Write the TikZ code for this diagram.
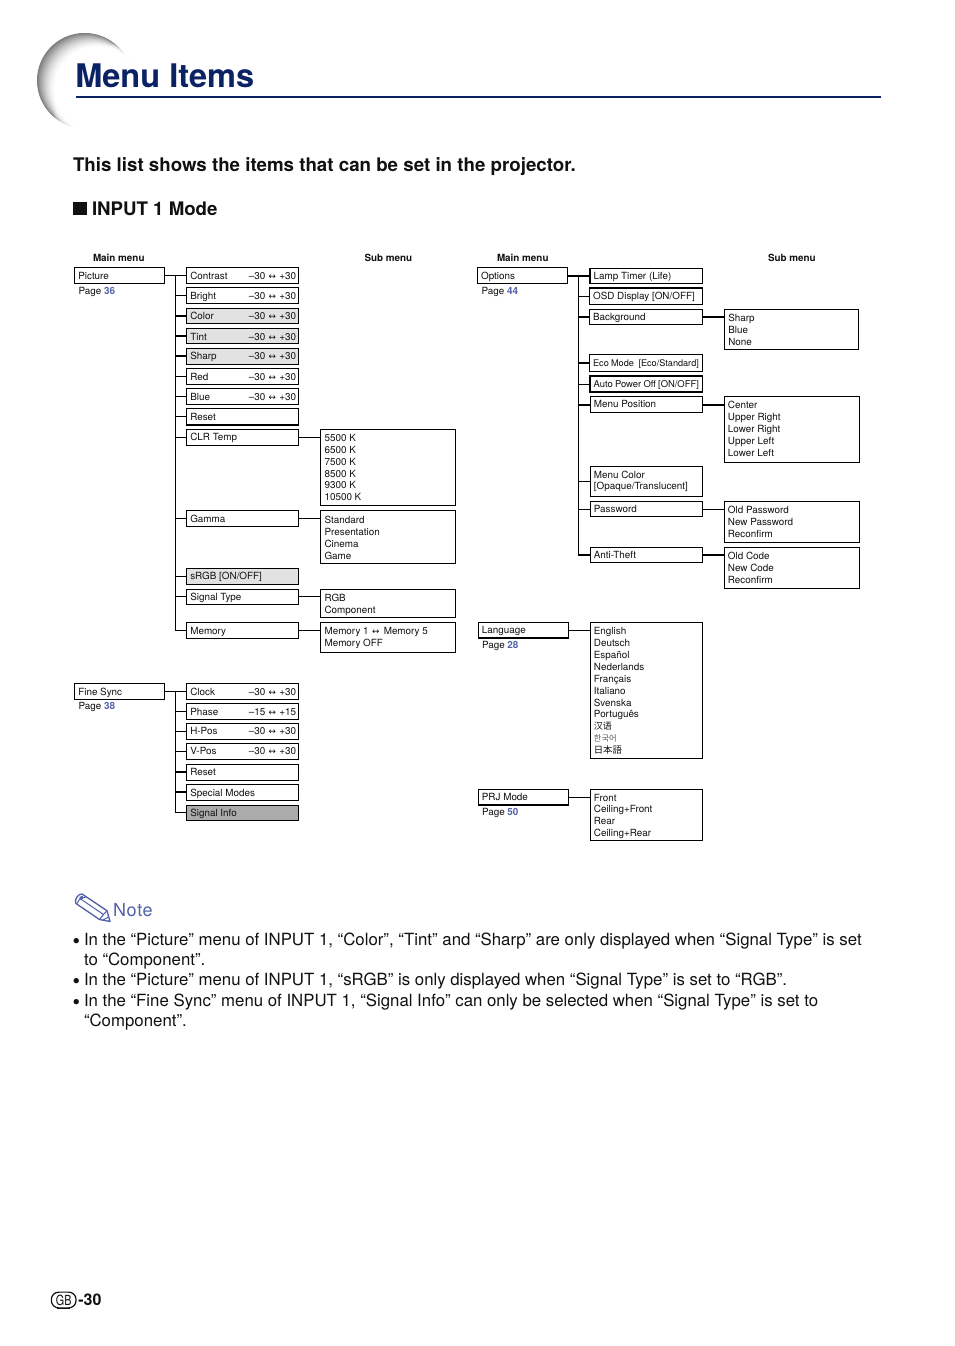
\documentclass[tikz,border=0pt]{standalone}
\usepackage{fontspec}
\setmainfont{TeX Gyre Heros}
\newfontfamily\symf{DejaVu Sans}
\newfontfamily\cjksc{Noto Sans CJK SC}
\newfontfamily\cjkkr{Noto Sans CJK KR}
\newfontfamily\cjkjp{Noto Sans CJK JP}
\definecolor{navy}{HTML}{0B2265}
\definecolor{noteblue}{HTML}{5362A8}
\definecolor{lightfill}{HTML}{E2E2E2}
\definecolor{darkfill}{HTML}{ABABAB}
\definecolor{inkc}{HTML}{111111}
\tikzset{
  mbox/.style={draw=black,line width=0.8pt,inner xsep=2.7pt,inner ysep=0pt,outer sep=0pt,anchor=north west,
     text=inkc,font=\fontsize{7.4}{8.9}\selectfont},
  lt/.style={mbox,fill=lightfill},
  dk/.style={mbox,fill=darkfill},
  plainb/.style={mbox,fill=white},
  thinl/.style={line width=0.75pt,black},
  thickl/.style={line width=1.5pt,black},
  lbl/.style={anchor=base west,inner sep=0pt,outer sep=0pt,text=inkc,font=\fontsize{7.4}{8.9}\selectfont},
  hdr/.style={lbl,font=\fontsize{7.4}{8.9}\selectfont\bfseries},
  bodyt/.style={anchor=base west,inner sep=0pt,outer sep=0pt,text=inkc,font=\fontsize{12.6}{15}\selectfont},
  bult/.style={anchor=base west,inner sep=0pt,outer sep=0pt,text=inkc,font=\fontsize{16}{15}\selectfont},
}
\newcommand\ML[1]{\begin{tabular}[t]{@{}l@{}}#1\end{tabular}}
\newcommand\Ar{\kern2.5pt{\symf\fontsize{6.6}{6}\selectfont ↔}\kern2.5pt}
\newcommand\Rg[2]{\hfill –#1\Ar+#2\kern-0.7pt}
\newcommand\BXg[8]{% base, style, name, x1,y1,x2,y2, text
  \pgfmathsetlengthmacro\bw{(#6-#4)*0.75pt-5.4pt}%
  \pgfmathsetlengthmacro\bh{#1*0.75pt}%
  \pgfmathsetlengthmacro\bd{(#7-#5-#1)*0.75pt}%
  \node[#2,text height=\bh,text depth=\bd] (#3) at (#4,#5) {\hbox to\bw{#8\hfil}};}
\newcommand\BX[7][plainb]{\BXg{11.7}{#1}{#2}{#3}{#4}{#5}{#6}{#7}}
\newcommand\BY[7][plainb]{\BXg{10.8}{#1}{#2}{#3}{#4}{#5}{#6}{#7}}
\newcommand\BM[7][plainb]{\BXg{12.2}{#1}{#2}{#3}{#4}{#5}{#6}{#7}}
\newcommand\PG[4]{\node[lbl] (#1) at (#2,#3) {Page {\color{noteblue}\bfseries #4}};}
\newcommand\Hc[3][thinl]{\draw[#1] (#2.east) -- (#2.east -| #3.west);}
\newcommand\St[3][thinl]{\draw[#1] (#2.west) -- (#2.west -| #3);}
\begin{document}
\begin{tikzpicture}[x=0.75pt,y=-0.75pt]
\useasboundingbox (0,0) rectangle (954,1346);
\fill[white] (0,0) rectangle (954,1346);
% swoosh
\foreach \i in {0,...,40}{
  \pgfmathsetmacro\t{\i/40}
  \pgfmathsetmacro\g{52*(1-\t)^1.6}
  \pgfmathsetmacro\cx{84.5+13.5*\t}
  \pgfmathsetmacro\cy{80.5+9.5*\t}
  \pgfmathsetmacro\rr{47.5-4.5*\t}
  \fill[black!\g!white] (\cx,\cy) circle [radius=\rr];
}
\foreach \r in {66,64,...,50}{\fill[white,opacity=0.22] (120,110) circle [radius=\r];}
\fill[white] (120,110) circle [radius=49];
% title
\node[anchor=base west,inner sep=0pt,text=navy,font=\fontsize{24.4}{28}\selectfont\bfseries] (title) at (75,87) {Menu Items};
\coordinate (ruleL) at (76,97); \coordinate (ruleR) at (881,97);
\draw[navy,line width=1.3pt] (ruleL) -- (ruleR);
\node[bodyt,font=\fontsize{14.04}{16}\selectfont\bfseries] (intro) at (73,171) {This list shows the items that can be set in the projector.};
\fill[inkc] (73,201.5) rectangle (87,215);
\node[bodyt,font=\fontsize{14}{16}\selectfont\bfseries] (mode) at (92,215) {INPUT 1 Mode};
% headers
\node[hdr] (h1) at (93,261) {Main menu};
\node[hdr] (h2) at (364.5,261) {Sub menu};
\node[hdr] (h3) at (497,261) {Main menu};
\node[hdr] (h4) at (768,261) {Sub menu};
% Picture
\BX{picture}{74.7}{267.7}{164.7}{283.3}{Picture}
\PG{p36}{78.7}{294.5}{36}
\BX{contrast}{186.7}{267.7}{298.7}{283.7}{Contrast\Rg{30}{30}}
\BX{bright}{186.7}{287.8}{298.7}{303.6}{Bright\Rg{30}{30}}
\BY[lt]{color}{186.7}{308.3}{298.7}{323.5}{Color\Rg{30}{30}}
\BX[lt]{tint}{186.7}{328.3}{298.7}{343.5}{Tint\Rg{30}{30}}
\BY[lt]{sharp}{186.7}{348.3}{298.7}{364.3}{Sharp\Rg{30}{30}}
\BX{red}{186.7}{368.5}{298.7}{384.3}{Red\Rg{30}{30}}
\BX{blue}{186.7}{388.5}{298.7}{404.3}{Blue\Rg{30}{30}}
\BX{reset}{186.7}{408.5}{298.7}{425}{Reset}
\BY{clr}{186.7}{429.3}{298.7}{445.3}{CLR Temp}
\BX{gamma}{186.7}{510.6}{298.7}{526.6}{Gamma}
\BY[lt]{srgb}{186.7}{568.3}{298.7}{584.3}{sRGB [ON/OFF]}
\BY{sigtype}{186.7}{589.3}{298.7}{604.5}{Signal Type}
\BX{memory}{186.7}{622.5}{298.7}{638.3}{Memory}
\BM{kelvin}{320.3}{429.3}{455.7}{505.3}{\kern0.5pt\ML{5500 K\\6500 K\\7500 K\\8500 K\\9300 K\\10500 K}}
\BXg{13}{plainb}{gopts}{320.3}{510.6}{455.7}{563.6}{\kern0.5pt\ML{Standard\\Presentation\\Cinema\\Game}}
\BM{sigopts}{320.3}{589.3}{455.7}{617.3}{\kern0.5pt\ML{RGB\\Component}}
\BM{memopts}{320.3}{622.5}{455.7}{652.3}{\kern0.5pt\ML{Memory 1\Ar\kern0.8pt Memory 5\\Memory OFF}}
\coordinate (t1) at (175.3,275.5);
\draw[thinl] (picture.east) -- (picture.east -| contrast.west);
\draw[thinl] (t1) |- (memory.west);
\foreach \n in {bright,reset,clr,red,blue,gamma,srgb,sigtype}{\St{\n}{t1}}
\foreach \n in {color,tint,sharp}{\St[thickl]{\n}{t1}}
\Hc{clr}{kelvin}\Hc{gamma}{gopts}\Hc{sigtype}{sigopts}\Hc{memory}{memopts}
% Fine Sync
\BX{finesync}{74.7}{683.3}{164.7}{699.3}{Fine Sync}
\PG{p38}{78.7}{709.5}{38}
\BX{clock}{186.7}{683.5}{298.7}{699.3}{Clock\Rg{30}{30}}
\BX{phase}{186.7}{703.7}{298.7}{719.7}{Phase\Rg{15}{15}}
\BY{hpos}{186.7}{723.7}{298.7}{739.5}{H-Pos\Rg{30}{30}}
\BXg{11.2}{plainb}{vpos}{186.7}{743.7}{298.7}{759.5}{V-Pos\Rg{30}{30}}
\BY{reset2}{186.7}{764.3}{298.7}{780.3}{Reset}
\BX{special}{186.7}{784.3}{298.7}{800.3}{Special Modes}
\BXg{11.2}{dk}{siginfo}{186.7}{805.3}{298.7}{820.5}{Signal Info}
\coordinate (t2) at (175.3,691.3);
\draw[thinl] (finesync.east) -- (finesync.east -| clock.west);
\draw[thinl] (t2) |- (siginfo.west);
\foreach \n in {phase,hpos,vpos}{\St{\n}{t2}}
\foreach \n in {reset2,special}{\St[thickl]{\n}{t2}}
% Options
\BX{options}{477.5}{267.7}{567.7}{283.3}{Options}
\PG{p44}{481.7}{294.5}{44}
\BY{lamp}{590}{268.3}{702.5}{283.7}{Lamp Timer (Life)}
\BX{osd}{589.5}{288}{702.5}{304.3}{OSD Display [ON/OFF]}
\BY{bg}{589.5}{309.3}{702.5}{324.3}{Background}
\BXg{12.2}{plainb,font=\fontsize{6.85}{8.9}\selectfont}{eco}{589.5}{354.2}{702.5}{371.7}{Eco Mode \ [Eco/Standard]}
\BX[plainb,font=\fontsize{7.05}{8.9}\selectfont]{autop}{590}{376}{702.5}{392}{Auto Power Off [ON/OFF]}
\BY{menupos}{590.3}{396.7}{702.5}{412.5}{Menu Position}
\BX{menucol}{590.3}{466.3}{702.5}{496.3}{\ML{Menu Color\\{}[Opaque/Translucent]}}
\BY{passw}{590.3}{501.7}{702.5}{516.7}{Password}
\BY{anti}{590.3}{547.3}{702.5}{562.3}{Anti-Theft}
\BM{bgopts}{724.7}{309.3}{858.9}{349.3}{\ML{Sharp\\Blue\\None}}
\BM{posopts}{724.3}{396.7}{859.3}{462.3}{\ML{Center\\Upper Right\\Lower Right\\Upper Left\\Lower Left}}
\BM{passopts}{724.3}{501.7}{859.3}{542.3}{\ML{Old Password\\New Password\\Reconfirm}}
\BM{antiopts}{724.3}{547.3}{859.3}{588.7}{\ML{Old Code\\New Code\\Reconfirm}}
\coordinate (t3) at (578.3,276);
\draw[thickl] (options.east) -- (options.east -| lamp.west);
\draw[thinl] (t3) -- (t3 |- anti.west);
\foreach \n in {osd,autop,menucol,passw}{\St{\n}{t3}}
\foreach \n in {bg,eco,menupos,anti}{\St[thickl]{\n}{t3}}
\Hc[thickl]{bg}{bgopts}\Hc[thickl]{menupos}{posopts}\Hc{passw}{passopts}\Hc[thickl]{anti}{antiopts}
% Language
\BY{lang}{478.3}{622.7}{568.7}{638}{Language}
\PG{p28}{482}{648}{28}
\BM{langopts}{590.3}{622.7}{702.5}{758.3}{\ML{English\\Deutsch\\Español\\Nederlands\\Français\\Italiano\\Svenska\\Português\\{\cjksc\fontsize{6.8}{8}\selectfont 汉语}\\{\cjkkr\fontsize{6.2}{8}\selectfont\color{black!65} 한국어}\\{\cjkjp\fontsize{7}{8}\selectfont 日本語}}}
\Hc{lang}{langopts}
% PRJ
\BY{prj}{478.3}{789.7}{568.7}{805}{PRJ Mode}
\PG{p50}{482}{815}{50}
\BXg{11.3}{plainb}{prjopts}{590.3}{789.7}{702.5}{840.3}{\ML{Front\\Ceiling+Front\\Rear\\Ceiling+Rear}}
\Hc{prj}{prjopts}
% Note icon
\draw[noteblue,line width=1pt,line join=round,fill=white] (82,894) -- (107,910.7) -- (110,921.5) -- (99.5,919.5) -- (75.7,903.3) .. controls (74.5,899) and (78,894) .. (82,894) -- cycle;
\draw[noteblue,line width=0.75pt,line join=round] (80,898.5) -- (103.5,914.5) (77,903.5) -- (80,898.5) -- (86,897) (107,910.7) -- (103.5,914.5) -- (99.5,919.5) (103,920) -- (108.5,917);
\fill[noteblue] (79.5,897) -- (82.5,895.8) -- (83.5,898) -- (80.5,900) -- cycle;
\node[bodyt,text=noteblue,font=\fontsize{13.5}{16}\selectfont] (note) at (113,916) {\addfontfeatures{LetterSpace=4}Note};
% notes
\node[bult] (b1) at (72.5,948.5) {•};
\node[bodyt] (n1) at (84,945) {In the “Picture” menu of INPUT 1, “Color”, “Tint” and “Sharp” are only displayed when “Signal Type” is set};
\node[bodyt] (n1b) at (84,965) {to “Component”.};
\node[bult] (b2) at (72.5,988.5) {•};
\node[bodyt] (n2) at (84,985) {In the “Picture” menu of INPUT 1, “sRGB” is only displayed when “Signal Type” is set to “RGB”.};
\node[bult] (b3) at (72.5,1009.5) {•};
\node[bodyt] (n3) at (84,1006) {In the “Fine Sync” menu of INPUT 1, “Signal Info” can only be selected when “Signal Type” is set to};
\node[bodyt] (n3b) at (84,1026) {“Component”.};
% footer
\node[draw=inkc,line width=0.9pt,rounded corners=5.5pt,minimum width=18.5pt,minimum height=11.8pt,inner sep=0pt,font=\fontsize{9.5}{10}\selectfont,text=inkc] (gb) at (63.7,1300) {\scalebox{0.85}[1.1]{GB}};
\draw[inkc,line width=1pt] ([xshift=-5pt]gb.south) -- ([xshift=5pt]gb.south);
\node[bodyt,font=\fontsize{12}{14}\selectfont\bfseries] (pg) at (78.3,1305.5) {-30};
\end{tikzpicture}
\end{document}
